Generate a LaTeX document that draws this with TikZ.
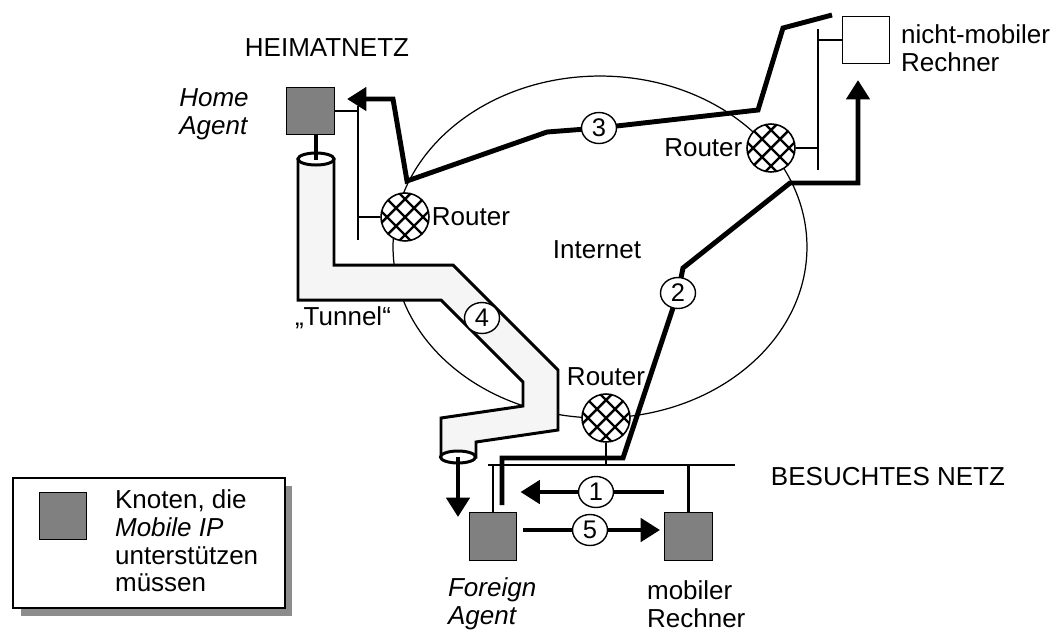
\documentclass[tikz,border=0pt]{standalone}
\usepackage{fontspec}
\setmainfont{Liberation Sans}
\usetikzlibrary{positioning,shapes.geometric,arrows.meta,calc}
\definecolor{nodegray}{gray}{0.5}
\definecolor{tunnelfill}{gray}{0.96}
\definecolor{shadowgray}{gray}{0.55}
\tikzset{
  router/.style  = {circle, draw, line width=0.9pt, fill=white,
                    minimum size=0.96cm, inner sep=0pt,
                    path picture={
                      \foreach \k in {-3,...,3}{
                        \draw[line width=1.4pt] ([xshift=\k*0.36cm]path picture bounding box.center)
                              ++(-0.7cm,-0.7cm) -- ++(1.4cm,1.4cm);
                        \draw[line width=1.4pt] ([xshift=\k*0.36cm]path picture bounding box.center)
                              ++(-0.7cm,0.7cm) -- ++(1.4cm,-1.4cm);
                      }}},
  host/.style    = {rectangle, draw, line width=0.8pt, fill=#1,
                    minimum size=0.95cm, inner sep=0pt},
  host/.default  = nodegray,
  stepno/.style  = {ellipse, draw, line width=0.8pt, fill=white,
                    minimum width=0.7cm, minimum height=0.62cm, inner sep=0pt,
                    font=\fontsize{14.5}{15}\selectfont},
  route/.style   = {line width=2.8pt},
  routetip/.style= {line width=2.8pt, -{Triangle[width=13pt,length=11pt]}},
  bus/.style     = {line width=1.2pt},
  tunnel/.style  = {line width=1.7pt, fill=tunnelfill},
  lbl/.style     = {font=\fontsize{14.8}{15.8}\selectfont, inner sep=1pt},
  lblit/.style   = {lbl, font=\fontsize{14.8}{15.8}\selectfont\itshape}
}

\begin{document}
\begin{tikzpicture}[x=0.02cm,y=-0.02cm]
\useasboundingbox (0,0) rectangle (1056,630);

% --- the internet cloud ---------------------------------------------------
\node[ellipse, draw, line width=0.7pt, minimum width=8.28cm,
      minimum height=6.84cm, inner sep=0pt] (inet) at (600,247) {};
\node[lbl] (inetlbl) at (597,250) {Internet};

% --- tunnel from home agent to foreign agent ------------------------------
\coordinate (tuntop) at (316,159);
\coordinate (tunbot) at (458,457);
\draw[tunnel] (298,159) -- (298,300) -- (441,300) -- (523,382) -- (523,406)
      -- (441,418) -- (441,457) -- (476,457) -- (476,442) -- (558,430)
      -- (558,370) -- (453,265) -- (334,265) -- (334,159) -- cycle;
\draw[line width=1.7pt, fill=white] (tuntop) ellipse [x radius=0.36cm, y radius=0.12cm];
\draw[line width=1.7pt, fill=white] (tunbot) ellipse [x radius=0.35cm, y radius=0.12cm];
\node[lbl] (tunlbl) at (343,318) {„Tunnel“};

% --- hosts ----------------------------------------------------------------
\node[host] (ha)  at (310.5,111) {};
\node[host=white] (nmr) at (866,40) {};
\node[host] (fa)  at (493,536.5) {};
\node[host] (mr)  at (688.5,536.5) {};

% --- routers --------------------------------------------------------------
\node[router] (rhome)  at (405,217) {};
\node[router] (rcorr)  at (771,148) {};
\node[router] (rvisit) at (606,418) {};

% --- networks -------------------------------------------------------------
\coordinate (hbustop) at (358,106);
\coordinate (hbusbot) at (358,240);
\draw[line width=1.6pt] (hbustop) -- (hbusbot);
\draw[bus] (ha.east) -- (ha.east -| hbustop);
\draw[bus] (rhome.west) -- (rhome.west -| hbustop);

\coordinate (cbustop) at (818,29);
\coordinate (cbusbot) at (818,170);
\draw[line width=1.6pt] (cbustop) -- (cbusbot);
\draw[bus] (nmr.west) -- (nmr.west -| cbustop);
\draw[bus] (rcorr.east) -- (rcorr.east -| cbustop);

\coordinate (vbusl) at (488,465);
\coordinate (vbusr) at (735,465);
\draw[bus] (vbusl) -- (vbusr);
\draw[bus] (rvisit.south) -- (rvisit.south |- vbusl);
\draw[bus] (fa.north) -- (fa.north |- vbusl);
\draw[bus] (mr.north) -- (mr.north |- vbusl);

% --- packet routes --------------------------------------------------------
\draw[route] (ha.south -| tuntop) -- ([yshift=-0.02cm]tuntop);
\coordinate (tunout) at (458,517);
\draw[routetip] (tunbot) -- (tunout);

\coordinate (p2start) at (502,505);
\coordinate (p2end)   at (858,80);
\draw[routetip] (p2start) -- (502,458) -- (623,458) -- (678,293) -- (683,268)
      -- (790,183) -- (858,183) -- (p2end);

\coordinate (p3start) at (832,15);
\coordinate (p3end)   at (347,99);
\draw[routetip] (p3start) -- (783,28) -- (758,110) -- (599,128) -- (547,132)
      -- (407,181) -- (393,99) -- (p3end);

\draw[routetip] ([yshift=0.89cm]mr.west) -- ([yshift=0.89cm,xshift=0.06cm]fa.east);
\draw[routetip] ([yshift=0.13cm,xshift=0.12cm]fa.east) -- ([yshift=0.13cm,xshift=-0.08cm]mr.west);

% --- step numbers ---------------------------------------------------------
\node[stepno] (n1) at (596,492) {1};
\node[stepno] (n2) at (678,293) {2};
\node[stepno] (n3) at (599,128) {3};
\node[stepno] (n4) at (482,318) {4};
\node[stepno] (n5) at (590,530) {5};

% --- labels ---------------------------------------------------------------
\node[lbl] (heimat) at (327,48) {HEIMATNETZ};
\node[lbl] (besucht) at (888,477) {BESUCHTES NETZ};
\node[lblit, align=left] (halbl) at (214,114) {Home\\Agent};
\node[lbl, anchor=west] (rhomelbl) at (rhome.east) {Router};
\node[lbl, anchor=east, inner sep=2pt] (rcorrlbl) at (rcorr.west) {Router};
\node[lbl, above=0pt of rvisit, inner sep=4pt] (rvisitlbl) {Router};
\node[lbl, anchor=west, align=left] (nmrlbl) at (899,48) {nicht-mobiler\\Rechner};
\node[lblit, anchor=west, align=left] (falbl) at (446,604) {Foreign\\Agent};
\node[lbl, anchor=west, align=left] (mrlbl) at (645,604) {mobiler\\Rechner};

% --- legend ---------------------------------------------------------------
\fill[shadowgray] (21,486) rectangle (292,616);
\draw[line width=0.9pt, fill=white] (13,478) rectangle (285,608);
\node[host] (legsq) at (63,516) {};
\node[lbl, anchor=west, align=left] (legtxt) at (113,541)
     {Knoten, die\\\textit{Mobile IP}\\unterstützen\\müssen};

\end{tikzpicture}
\end{document}
